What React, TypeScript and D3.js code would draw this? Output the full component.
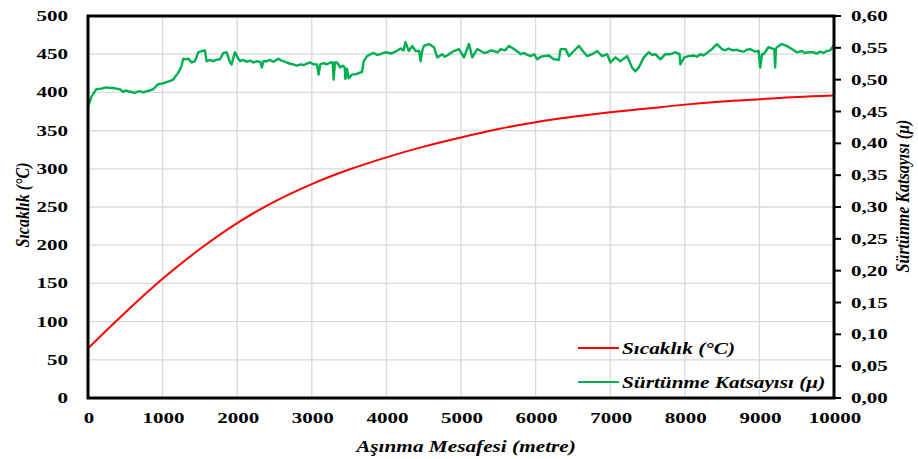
import React, { useEffect, useRef } from "react";
import * as d3 from "d3";

// Sıcaklık (°C)
const tempDistance = [0, 500, 1000, 1500, 2000, 2500, 3000, 3500, 4000, 4500, 5000, 5500, 6000, 6500, 7000, 7500, 8000, 8500, 9000, 9500, 10000];
const tempValues = [65, 112, 156, 195, 229, 257, 280, 299, 315, 329, 341, 352, 361, 368, 374, 379, 384, 388, 391, 394, 396];

// Sürtünme katsayısı
const frictionDistance = [
  0, 45, 112, 180, 246, 290, 336, 380, 426, 470, 515, 550, 582, 627, 660, 694, 740, 784, 830, 874, 941, 1000, 1053, 1100, 1142, 1210, 1250, 1277, 1310, 1344, 1389,
  1434, 1478, 1523, 1568, 1590, 1630, 1680, 1720, 1770, 1814, 1859, 1904, 1926, 1950, 1971, 2000, 2038, 2080, 2128, 2170, 2218, 2260, 2310, 2330, 2352, 2397, 2440,
  2486, 2554, 2590, 2621, 2660, 2710, 2750, 2800, 2850, 2890, 2930, 2979, 3024, 3070, 3091, 3114, 3158, 3200, 3248, 3280, 3293, 3310, 3338, 3382, 3410, 3440, 3450,
  3472, 3494, 3539, 3606, 3640, 3674, 3696, 3741, 3790, 3830, 3870, 3920, 3960, 4010, 4060, 4122, 4189, 4230, 4256, 4301, 4346, 4390, 4440, 4458, 4480, 4502,
  4570, 4637, 4682, 4749, 4780, 4816, 4860, 4906, 4973, 5040, 5107, 5152, 5219, 5264, 5310, 5353, 5400, 5442, 5490, 5532, 5590, 5643, 5710, 5760, 5799, 5844, 5890, 5933,
  5980, 6022, 6070, 6112, 6178, 6245, 6312, 6335, 6401, 6446, 6513, 6580, 6647, 6691, 6758, 6825, 6892, 6959, 7004, 7070, 7137, 7180, 7227,
  7293, 7338, 7383, 7450, 7516, 7560, 7606, 7673, 7739, 7806, 7873, 7930, 7940, 7994, 8052, 8119, 8160, 8208, 8250, 8297, 8364, 8431, 8498,
  8540, 8587, 8640, 8698, 8740, 8788, 8830, 8877, 8944, 8990, 9011, 9035, 9055, 9122, 9189, 9200, 9211, 9222, 9234, 9300, 9367, 9434, 9501, 9568,
  9610, 9657, 9724, 9770, 9813, 9860, 9903, 9950, 10000,
];
const frictionValues = [
  0.457, 0.473, 0.485, 0.486, 0.488, 0.487, 0.487, 0.486, 0.485, 0.481, 0.483, 0.481, 0.481, 0.479, 0.481, 0.482, 0.48, 0.482, 0.483, 0.485, 0.493, 0.494, 0.496, 0.498, 0.5, 0.511, 0.52, 0.533, 0.532, 0.533, 0.527,
  0.529, 0.543, 0.545, 0.546, 0.529, 0.531, 0.529, 0.531, 0.532, 0.542, 0.543, 0.527, 0.524, 0.535, 0.543, 0.536, 0.529, 0.531, 0.528, 0.53, 0.527, 0.529, 0.528, 0.519, 0.529, 0.529, 0.531,
  0.528, 0.533, 0.53, 0.529, 0.527, 0.525, 0.524, 0.522, 0.524, 0.523, 0.525, 0.527, 0.524, 0.524, 0.508, 0.524, 0.526, 0.524, 0.527, 0.527, 0.5, 0.527, 0.527, 0.519, 0.522, 0.52, 0.501,
  0.517, 0.502, 0.508, 0.509, 0.511, 0.512, 0.529, 0.537, 0.54, 0.542, 0.539, 0.54, 0.542, 0.543, 0.541, 0.544, 0.549, 0.546, 0.559, 0.545, 0.553, 0.545, 0.545, 0.529, 0.545, 0.553,
  0.556, 0.551, 0.535, 0.54, 0.536, 0.538, 0.542, 0.545, 0.548, 0.535, 0.556, 0.535, 0.548, 0.545, 0.542, 0.543, 0.546, 0.545, 0.543, 0.548, 0.546, 0.553, 0.548, 0.544, 0.54, 0.542, 0.539, 0.537,
  0.54, 0.532, 0.536, 0.537, 0.538, 0.532, 0.531, 0.548, 0.548, 0.537, 0.545, 0.553, 0.543, 0.537, 0.54, 0.545, 0.537, 0.54, 0.527, 0.535, 0.529, 0.533, 0.537,
  0.519, 0.513, 0.519, 0.535, 0.543, 0.539, 0.54, 0.532, 0.54, 0.54, 0.543, 0.54, 0.524, 0.535, 0.537, 0.538, 0.536, 0.54, 0.538, 0.542, 0.548, 0.556, 0.548,
  0.546, 0.549, 0.546, 0.547, 0.545, 0.544, 0.547, 0.548, 0.544, 0.545, 0.519, 0.54, 0.54, 0.551, 0.548, 0.548, 0.519, 0.548, 0.551, 0.556, 0.553, 0.548, 0.543, 0.545,
  0.542, 0.543, 0.543, 0.541, 0.544, 0.542, 0.545, 0.546, 0.555,
];

const xTicks = [0, 1000, 2000, 3000, 4000, 5000, 6000, 7000, 8000, 9000, 10000];
const leftTicks = [0, 50, 100, 150, 200, 250, 300, 350, 400, 450, 500];
const rightTicks = [0, 0.05, 0.1, 0.15, 0.2, 0.25, 0.3, 0.35, 0.4, 0.45, 0.5, 0.55, 0.6];

const seriesNames = ["Sıcaklık (°C)", "Sürtünme Katsayısı (μ)"];
const seriesColors = ["#ff0000", "#00b050"];

const FONT = "'Liberation Serif', 'Times New Roman', serif";

const App = () => {
  const svgRef = useRef<SVGSVGElement>(null);

  useEffect(() => {
    const width = 918;
    const height = 459;
    const svg = d3.select(svgRef.current);
    svg.selectAll("*").remove();

    const margin = { top: 16, right: 84, bottom: 61, left: 88 };

    const x = d3.scaleLinear().domain([0, 10000]).range([margin.left, width - margin.right]);
    const yL = d3.scaleLinear().domain([0, 500]).range([height - margin.bottom, margin.top]);
    const yR = d3.scaleLinear().domain([0, 0.6]).range([height - margin.bottom, margin.top]);

    svg.append("rect").attr("width", width).attr("height", height).attr("fill", "#fff");

    // text in the picture is stretched sideways
    const label = (tx: number, ty: number, str: string, o: any = {}) =>
      svg
        .append("text")
        .attr("transform", `translate(${tx},${ty}) scale(${o.sx ?? 1.4},1)${o.rotate ? " rotate(-90)" : ""}`)
        .attr("text-anchor", o.anchor ?? "middle")
        .attr("font-family", FONT)
        .attr("font-weight", "bold")
        .attr("font-style", o.italic ? "italic" : "normal")
        .attr("font-size", o.size ?? 15)
        .attr("fill", "#000")
        .text(str);

    // grid
    const grid = svg.append("g").attr("stroke", "#d9d9d9").attr("stroke-width", 1.3);
    grid
      .selectAll("line.h")
      .data(leftTicks)
      .enter()
      .append("line")
      .attr("x1", x(0))
      .attr("x2", x(10000))
      .attr("y1", (d) => yL(d))
      .attr("y2", (d) => yL(d));
    grid
      .selectAll("line.v")
      .data(xTicks)
      .enter()
      .append("line")
      .attr("x1", (d) => x(d))
      .attr("x2", (d) => x(d))
      .attr("y1", yL(0))
      .attr("y2", yL(500));

    // series
    const temp = tempDistance.map((d, i) => [d, tempValues[i]] as [number, number]);
    const fric = frictionDistance.map((d, i) => [d, frictionValues[i]] as [number, number]);

    svg
      .append("path")
      .datum(temp)
      .attr("fill", "none")
      .attr("stroke", seriesColors[0])
      .attr("stroke-width", 2)
      .attr("d", d3.line<[number, number]>().x((d) => x(d[0])).y((d) => yL(d[1])).curve(d3.curveMonotoneX));

    svg
      .append("path")
      .datum(fric)
      .attr("fill", "none")
      .attr("stroke", seriesColors[1])
      .attr("stroke-width", 2.4)
      .attr("stroke-linejoin", "round")
      .attr("d", d3.line<[number, number]>().x((d) => x(d[0])).y((d) => yR(d[1])));

    // frame
    svg
      .append("rect")
      .attr("x", x(0))
      .attr("y", yL(500))
      .attr("width", x(10000) - x(0))
      .attr("height", yL(0) - yL(500))
      .attr("fill", "none")
      .attr("stroke", "#000")
      .attr("stroke-width", 3);

    // right axis ticks
    svg
      .append("g")
      .selectAll("line")
      .data(rightTicks)
      .enter()
      .append("line")
      .attr("x1", x(10000))
      .attr("x2", x(10000) + 7)
      .attr("y1", (d) => yR(d))
      .attr("y2", (d) => yR(d))
      .attr("stroke", "#000")
      .attr("stroke-width", 2);

    leftTicks.forEach((t) => label(68, yL(t) + 5, String(t), { anchor: "end" }));
    rightTicks.forEach((t) => label(851, yR(t) + 5, t.toFixed(2).replace(".", ","), { anchor: "start" }));
    xTicks.forEach((t) => label(x(t) + 1, 423, String(t)));

    // axis titles
    label(x(5000) + 5, 452, "Aşınma Mesafesi (metre)", { italic: true, size: 16, sx: 1.33 });
    label(29, 205, seriesNames[0], { italic: true, size: 16, sx: 1.2, rotate: true });
    label(909, 196, seriesNames[1], { italic: true, size: 16, sx: 1.2, rotate: true });

    // legend
    seriesNames.forEach((name, i) => {
      const ly = 348 + i * 34;
      svg
        .append("line")
        .attr("x1", 578)
        .attr("x2", 619)
        .attr("y1", ly)
        .attr("y2", ly)
        .attr("stroke", seriesColors[i])
        .attr("stroke-width", 2);
      label(622, ly + 6, name, { italic: true, size: 16, sx: 1.33, anchor: "start" });
    });
  }, []);

  return <svg ref={svgRef} width={918} height={459} style={{ position: "absolute", left: 0, top: 0 }} />;
};

export default App;
